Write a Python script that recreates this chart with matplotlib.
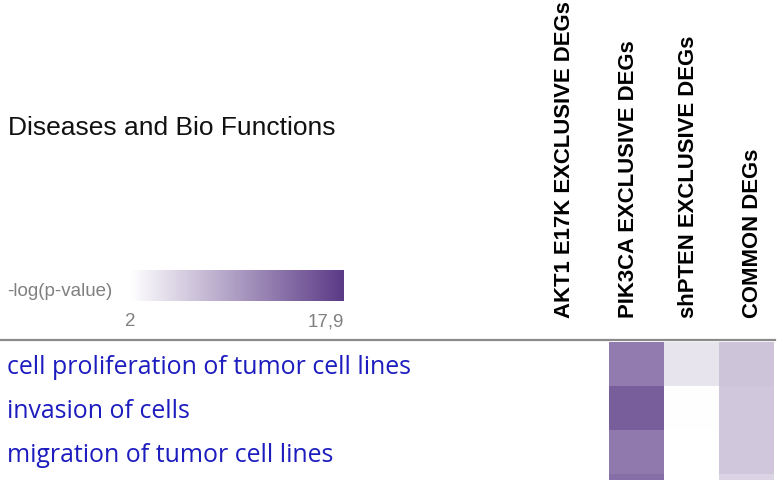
import numpy as np
import matplotlib.pyplot as plt
from matplotlib.colors import LinearSegmentedColormap

# data
columns = ["AKT1 E17K EXCLUSIVE DEGs", "PIK3CA EXCLUSIVE DEGs",
           "shPTEN EXCLUSIVE DEGs", "COMMON DEGs"]
functions = ["cell proliferation of tumor cell lines", "invasion of cells",
             "migration of tumor cell lines", ""]
# -log(p-value), nan = not significant
akt1 = [np.nan, np.nan, np.nan, np.nan]
pik3ca = [12.5, 15.0, 12.8, 13.7]
shpten = [4.2, 2.1, 2.05, np.nan]
common = [6.8, 6.5, 6.5, 5.5]
vmin, vmax = 2, 17.9
bar_labels = ["2", "17,9"]

W, H = 783, 483
fig = plt.figure(figsize=(W / 100, H / 100), dpi=100)

def fx(x):
    return x / W

def fy(y):
    return 1 - y / H

cmap = LinearSegmentedColormap.from_list("ipa", ["#ffffff", "#5b3a86"])

# heatmap
ax = fig.add_axes([fx(554), fy(480), fx(774) - fx(554), fy(342) - fy(480)])
vals = np.array([akt1, pik3ca, shpten, common]).T
ax.pcolormesh(np.ma.masked_invalid(vals), cmap=cmap, vmin=vmin, vmax=vmax)
ax.set_xlim(0, 4)
ax.set_ylim(3 + 6 / 44, 0)
ax.axis("off")

# column headers (rotated)
hx = [564, 628, 689, 752]
for x, c in zip(hx, columns):
    fig.text(fx(x), fy(318), c, rotation=90, ha="center", va="bottom",
             fontsize=15.9, fontweight="bold", family="Liberation Sans")

fig.text(fx(8), fy(128), "Diseases and Bio Functions", ha="left", va="center",
         fontsize=19, family="Liberation Sans", color="#111111")

# row labels
ry = [368, 411, 455]
for y, f in zip(ry, functions):
    fig.text(fx(7), fy(y), f, ha="left", va="center", fontsize=17.9,
             family="Open Sans", color="#1c1cbf")

# separator
fig.add_artist(plt.Line2D([0, fx(775)], [fy(340), fy(340)], color="#8a8a8a",
                          lw=1.6, transform=fig.transFigure))

# colour legend
cax = fig.add_axes([fx(130), fy(301), fx(344) - fx(130), fy(270) - fy(301)])
cax.imshow(np.linspace(vmin, vmax, 256)[None, :], aspect="auto", cmap=cmap,
           vmin=vmin, vmax=vmax)
cax.axis("off")
fig.text(fx(7), fy(291), "-log(p-value)", ha="left", va="center",
         fontsize=13.5, family="Liberation Sans", color="#808080")
fig.text(fx(130), fy(322), bar_labels[0], ha="center", va="center",
         fontsize=13.5, family="Liberation Sans", color="#808080")
fig.text(fx(344), fy(322), bar_labels[1], ha="right", va="center",
         fontsize=13.5, family="Liberation Sans", color="#808080")

fig.savefig("out.png", dpi=100)
